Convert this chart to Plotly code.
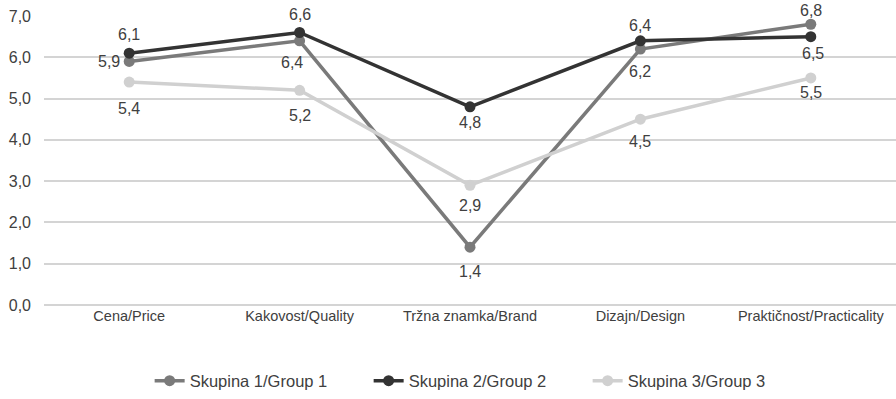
import plotly.graph_objects as go

categories = ["Cena/Price", "Kakovost/Quality", "Tržna znamka/Brand", "Dizajn/Design", "Praktičnost/Practicality"]
group1 = [5.9, 6.4, 1.4, 6.2, 6.8]
group2 = [6.1, 6.6, 4.8, 6.4, 6.5]
group3 = [5.4, 5.2, 2.9, 4.5, 5.5]
names = ["Skupina 1/Group 1", "Skupina 2/Group 2", "Skupina 3/Group 3"]
y_ticks = [0, 1, 2, 3, 4, 5, 6, 7]

colors = ["#7a7a7a", "#333333", "#d0d0d0"]
# label offsets in pixels (x, y) relative to each point (styling only)
label_shift = [
    [(-20, 0), (-8, -22), (0, -24), (0, -22), (0, 14)],
    [(0, 19), (0, 18), (0, -16), (0, 15), (2, -17)],
    [(0, -26), (0, -25), (0, -20), (0, -22), (0, -15)],
]
FONT = "Liberation Sans, Arial, sans-serif"

fig = go.Figure()
series = [group1, group2, group3]
for s, name, c, shifts in zip(series, names, colors, label_shift):
    fig.add_trace(go.Scatter(
        x=categories, y=s, name=name, mode="lines+markers",
        line=dict(color=c, width=3.5),
        marker=dict(color=c, size=11),
        cliponaxis=False, hoverinfo="skip",
    ))
    for xc, v, (dx, dy) in zip(categories, s, shifts):
        fig.add_annotation(
            x=xc, y=v, text=f"{v:.1f}".replace(".", ","), showarrow=False,
            xshift=dx, yshift=dy, xanchor="center", yanchor="middle",
            font=dict(family=FONT, size=16, color="#404040"),
        )

fig.update_layout(
    width=896, height=399,
    margin=dict(l=44, r=0, t=16, b=94, autoexpand=False),
    plot_bgcolor="white", paper_bgcolor="white",
    separators=",.",
    font=dict(family=FONT, size=14, color="#404040"),
    showlegend=True,
    legend=dict(orientation="h", xref="paper", x=0.124, xanchor="left",
                y=-0.263, yanchor="middle", font=dict(size=16.5, color="#404040"),
                entrywidth=174, entrywidthmode="pixels"),
    xaxis=dict(type="category", range=[-0.5, 4.5], showgrid=False, automargin=False,
               tickangle=0, showline=False, ticks="", tickfont=dict(size=14.5)),
    yaxis=dict(range=[0, 7], tickvals=y_ticks, tickformat=".1f", automargin=False,
               showgrid=True, gridcolor="#d4d4d4", gridwidth=2,
               zeroline=True, zerolinecolor="#d4d4d4", zerolinewidth=2,
               showline=False, ticks="", tickfont=dict(size=16), ticklabelstandoff=12,
               ticklabeloverflow="allow"),
)
fig.write_html("out.html", config={"displayModeBar": False},
               post_script="document.body.style.margin='0';document.body.style.padding='0';")
